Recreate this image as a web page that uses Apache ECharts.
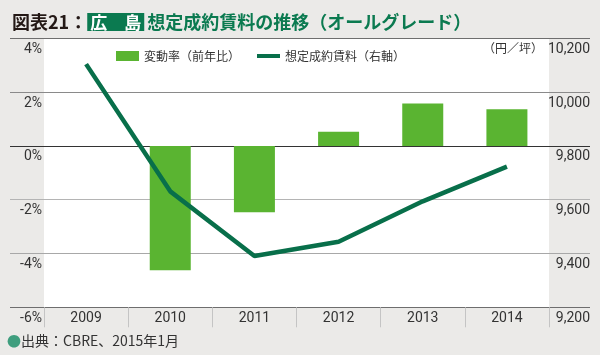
<!DOCTYPE html>
<html><head><meta charset="utf-8">
<script src="https://cdn.jsdelivr.net/npm/echarts@6/dist/echarts.min.js"></script>
<style>html,body{margin:0;padding:0;background:#ebeae8;}#c{width:600px;height:355px;}</style>
</head><body><div id="c"></div>
<script>
const years = ['2009','2010','2011','2012','2013','2014'];
const changeRate = [null, -4.62, -2.47, 0.53, 1.58, 1.36];
const rent = [10104, 9631, 9391, 9444, 9594, 9723];
const leftTicks = {min: -6, max: 4, interval: 2};
const rightTicks = {min: 9200, max: 10200, interval: 200};
const seriesNames = ['変動率（前年比）', '想定成約賃料（右軸）'];

const narrow = "Roboto,'Liberation Sans',sans-serif";
const numSize = 14;
const jp = "'Noto Sans CJK JP','Noto Sans',sans-serif";
const chart = echarts.init(document.getElementById('c'), null, {renderer: 'canvas'});
chart.setOption({
  backgroundColor: '#ebeae8',
  animation: false,
  title: {
    left: 7, top: 8,
    text: '{a|図表21：}{b|広　島}{c|想定成約賃料の推移（オールグレード）}',
    textStyle: {
      rich: {
        a: {fontFamily: jp, fontSize: 18, fontWeight: 'bold', color: '#231815'},
        b: {fontFamily: jp, fontSize: 17, fontWeight: 'bold', color: '#ffffff', backgroundColor: '#0b7a50', padding: [1, 3, 0, 3]},
        c: {fontFamily: jp, fontSize: 18, fontWeight: 'bold', color: '#0b7a50', padding: [0, 0, 0, 3]}
      }
    }
  },
  legend: {
    left: 111, top: 45,
    itemWidth: 23, itemHeight: 10, itemGap: 17,
    textStyle: {fontFamily: jp, fontSize: 12, color: '#333'},
    data: [
      {name: seriesNames[0], icon: 'rect'},
      {name: seriesNames[1], icon: 'path://M0,0M0,3h23v4h-23zM23,10'}
    ]
  },
  graphic: [
    {type: 'text', x: 543, y: 48, style: {text: '（円／坪）', font: "12px 'Noto Sans CJK JP'", fill: '#333', align: 'right', verticalAlign: 'middle'}},
    {type: 'text', x: 7, y: 341, style: {
      text: '{d|●}{t|出典：CBRE、2015年1月}', verticalAlign: 'middle',
      rich: {
        d: {fontFamily: jp, fontSize: 14, fill: '#3f9e7e'},
        t: {fontFamily: jp, fontSize: 14, fill: '#333'}
      }
    }}
  ],
  grid: [
    {left: 10, right: 10, top: 38.3, height: 269, containLabel: false},
    {left: 44, right: 51, top: 38.3, height: 269, containLabel: false, show: true, backgroundColor: '#ffffff', borderWidth: 0}
  ],
  xAxis: [
    {gridIndex: 0, type: 'value', show: false, min: 0, max: 1},
    {gridIndex: 1, type: 'category', data: years, position: 'bottom',
      axisLine: {show: false, onZero: false},
      axisTick: {show: true, length: 20, alignWithLabel: false, interval: 0, lineStyle: {color: '#c4c4c4', width: 1}},
      axisLabel: {fontFamily: narrow, fontSize: numSize, color: '#333', margin: 4},
      splitLine: {show: false}
    }
  ],
  yAxis: [
    {gridIndex: 0, type: 'value', min: leftTicks.min, max: leftTicks.max, interval: leftTicks.interval,
      axisLabel: {show: false}, axisLine: {show: false}, axisTick: {show: false},
      splitLine: {show: true, lineStyle: {width: 1, color: ['#6e6e6e', '#a8a8a8', '#b4b4b4', '#333333', '#8a8a8a', '#6e6e6e']}}
    },
    {gridIndex: 1, type: 'value', position: 'left', min: leftTicks.min, max: leftTicks.max, interval: leftTicks.interval,
      axisLine: {show: false}, axisTick: {show: false}, splitLine: {show: false},
      axisLabel: {formatter: '{value}%', fontFamily: narrow, fontSize: numSize, color: '#333', margin: 2, verticalAlign: 'top', lineHeight: 16, padding: [3, 0, 0, 0]}
    },
    {gridIndex: 1, type: 'value', position: 'right', min: rightTicks.min, max: rightTicks.max, interval: rightTicks.interval,
      axisLine: {show: false}, axisTick: {show: false}, splitLine: {show: false},
      axisLabel: {formatter: v => v.toLocaleString('en-US'), fontFamily: narrow, fontSize: numSize, color: '#333', margin: 41, align: 'right', verticalAlign: 'top', lineHeight: 16, padding: [3, 0, 0, 0]}
    }
  ],
  series: [
    {name: seriesNames[0], type: 'bar', xAxisIndex: 1, yAxisIndex: 1, data: changeRate, barWidth: 41,
      itemStyle: {color: '#5ab431'}},
    {name: seriesNames[1], type: 'line', xAxisIndex: 1, yAxisIndex: 2, data: rent, symbol: 'none',
      lineStyle: {width: 4.5, color: '#086f4a'}, itemStyle: {color: '#086f4a'}, z: 3}
  ]
});
</script></body></html>
